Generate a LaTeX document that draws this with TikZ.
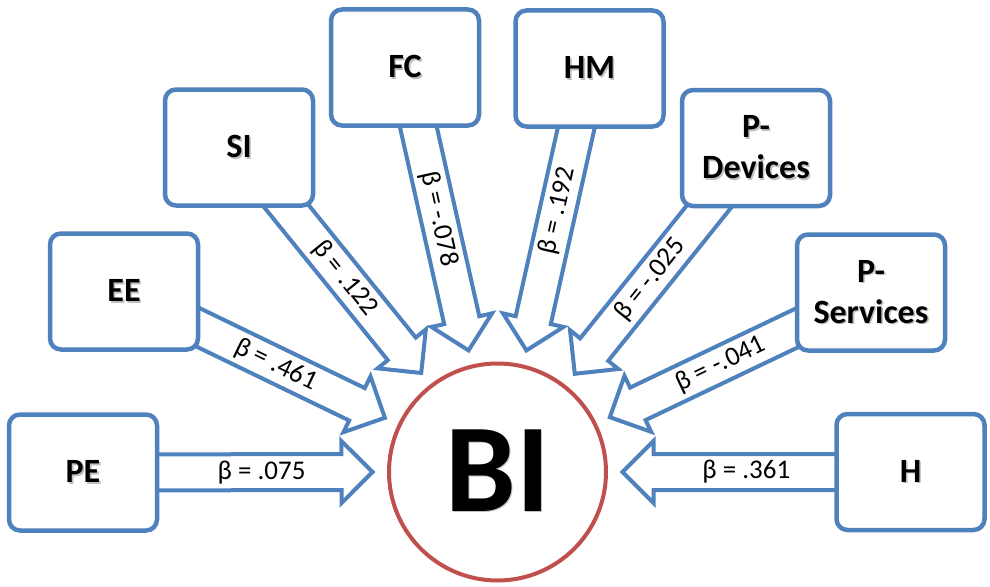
\documentclass[tikz,border=0pt]{standalone}
\usepackage{fontspec}
\setmainfont{Carlito}
\usetikzlibrary{calc}
\definecolor{boxblue}{HTML}{4F81BD}
\definecolor{ringred}{HTML}{C0504D}
\pgfdeclarelayer{arrows}
\pgfsetlayers{arrows,main}

% bold label with a soft grey drop shadow
\newcommand\shadowed[1]{\leavevmode\rlap{\kern1.6pt\raisebox{-1.6pt}{\textcolor{black!25}{#1}}}#1}

% block arrow geometry
\def\shaftw{18pt}
\def\headw{31pt}
\def\headl{31pt}

% block arrow from the centre of node #1 to the tip coordinate #2
\newcommand\blockarrow[2]{%
  \coordinate (#1-hb) at ($(#2)!\headl!(#1)$);
  \draw[arrowbody]
    ($(#1)!\shaftw!90:(#2)$) -- ($(#1-hb)!\shaftw!90:(#2)$)
    -- ($(#1-hb)!\headw!90:(#2)$) -- (#2)
    -- ($(#1-hb)!\headw!-90:(#2)$) -- ($(#1-hb)!\shaftw!-90:(#2)$)
    -- ($(#1)!\shaftw!-90:(#2)$) -- cycle;
}

\tikzset{
  factor/.style={draw=boxblue, line width=4.5pt, fill=white, rounded corners=11pt,
    minimum width=148pt, minimum height=116pt, align=center, inner sep=0pt,
    font=\fontsize{34}{41}\selectfont\bfseries},
  target/.style={circle, draw=ringred, line width=4pt, fill=white,
    minimum size=217pt, inner sep=0pt, font=\fontsize{126}{126}\selectfont\bfseries},
  arrowbody/.style={draw=boxblue, fill=white, line width=4pt, line join=miter},
  betalabel/.style={sloped, inner sep=0pt, font=\fontsize{27}{27}\selectfont}
}

\begin{document}
\begin{tikzpicture}[x=1pt, y=-1pt]
\useasboundingbox (0,0) rectangle (990,586);

% outcome
\node[target] (BI) at (497.5,472) {\raisebox{3pt}{\shadowed{BI}}};

% predictors
\node[factor] (PE)    at (83,472.5)  {\shadowed{PE}};
\node[factor] (EE)    at (124,291.5) {\shadowed{EE}};
\node[factor] (SI)    at (239,147.5) {\shadowed{SI}};
\node[factor] (FC)    at (405,67.5)  {\shadowed{FC}};
\node[factor] (HM)    at (589.5,68.5) {\shadowed{HM}};
\node[factor] (PDev)  at (756,148)   {\shadowed{P-}\\\shadowed{Devices}};
\node[factor] (PServ) at (871,292.5) {\shadowed{P-}\\\shadowed{Services}};
\node[factor] (H)     at (910.5,472) {\shadowed{H}};

% arrow tips on a ring round the outcome
\coordinate (tPE)    at ($(BI)+(180:125pt)$);
\coordinate (tEE)    at ($(BI)+(154.3:125pt)$);
\coordinate (tSI)    at ($(BI)+(127.6:125pt)$);
\coordinate (tFC)    at ($(BI)+(103.4:125pt)$);
\coordinate (tHM)    at ($(BI)+(76.6:125pt)$);
\coordinate (tPDev)  at ($(BI)+(51.8:125pt)$);
\coordinate (tPServ) at ($(BI)+(26:125pt)$);
\coordinate (tH)     at ($(BI)+(0:125pt)$);

\begin{pgfonlayer}{arrows}
\blockarrow{PE}{tPE}
\blockarrow{EE}{tEE}
\blockarrow{SI}{tSI}
\blockarrow{FC}{tFC}
\blockarrow{HM}{tHM}
\blockarrow{PDev}{tPDev}
\blockarrow{PServ}{tPServ}
\blockarrow{H}{tH}
\end{pgfonlayer}

% path coefficients
\path (PE) -- (tPE)       node[betalabel, pos=0.48] (lPE) {β = .075};
\path (EE) -- (tEE)       node[betalabel, pos=0.41] (lEE) {β = .461};
\path (SI) -- (tSI)       node[betalabel, pos=0.43] (lSI) {β = .122};
\path (FC) -- (tFC)       node[betalabel, pos=0.41] (lFC) {β = -.078};
\path (HM) -- (tHM)       node[betalabel, pos=0.37] (lHM) {β = .192};
\path (PDev) -- (tPDev)   node[betalabel, pos=0.43] (lPDev) {β = -.025};
\path (PServ) -- (tPServ) node[betalabel, pos=0.40] (lPServ) {β = -.041};
\path (H) -- (tH)         node[betalabel, pos=0.415] (lH) {β = .361};
\end{tikzpicture}
\end{document}
